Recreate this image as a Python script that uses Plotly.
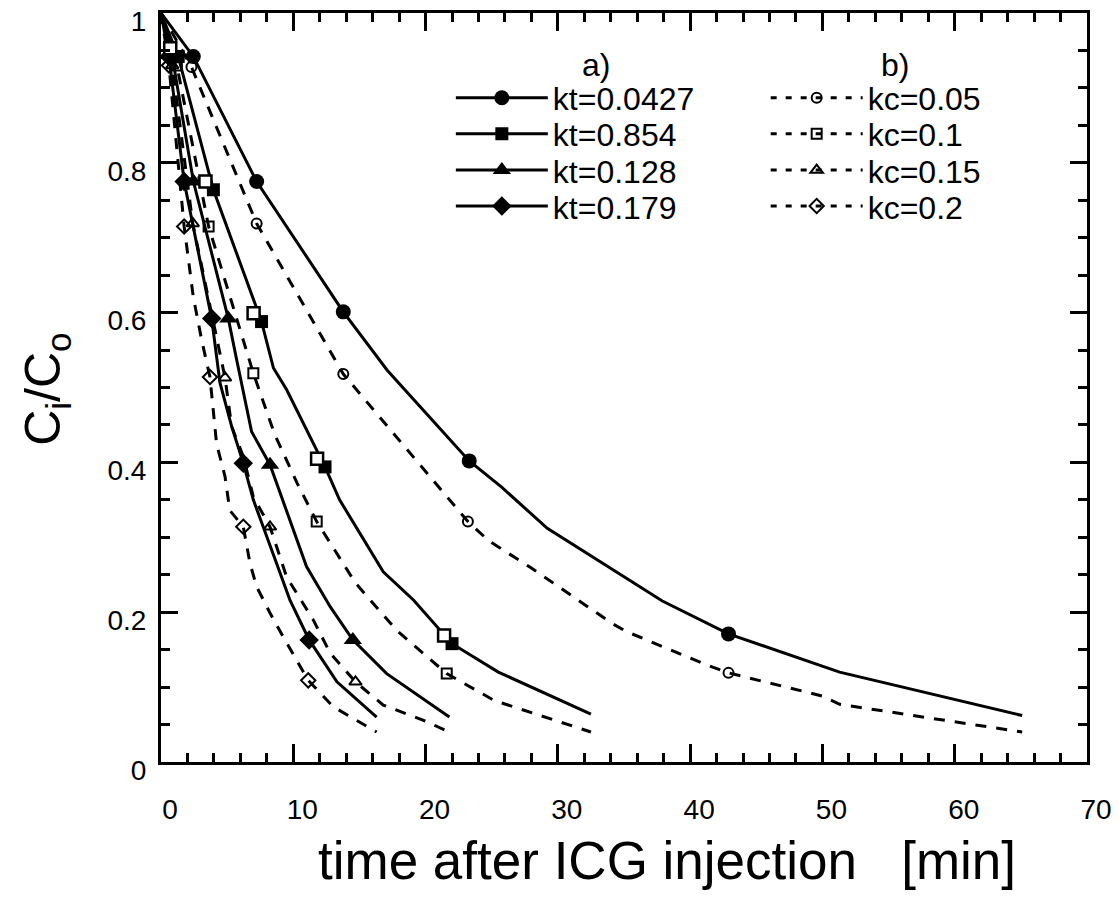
import plotly.graph_objects as go

# ---------------- data ----------------
# solid curves (kt) : polyline vertices
kt1_t = [0, 2.44, 7.23, 13.78, 17.1, 23.3, 25.75, 29.2, 32.7, 37.9, 42.9, 51.3, 65.1]
kt1_v = [1.0, 0.942, 0.775, 0.601, 0.523, 0.402, 0.367, 0.312, 0.273, 0.215, 0.171, 0.120, 0.062]
kt1_mt = [2.44, 7.23, 13.78, 23.3, 42.9]
kt1_mv = [0.942, 0.775, 0.601, 0.402, 0.171]

kt2_t = [0, 1.3, 3.96, 7.6, 8.5, 9.5, 12.4, 13.5, 16.8, 19.1, 22.0, 25.5, 32.5]
kt2_v = [1.0, 0.942, 0.764, 0.588, 0.526, 0.497, 0.394, 0.350, 0.254, 0.216, 0.158, 0.120, 0.064]
kt2_mt = [1.3, 3.96, 7.6, 12.4, 22.0]
kt2_mv = [0.942, 0.764, 0.588, 0.394, 0.158]

kt3_t = [0, 0.85, 2.45, 5.09, 5.72, 6.85, 8.24, 9.2, 11.0, 12.8, 14.5, 17.06, 21.8]
kt3_v = [1.0, 0.942, 0.775, 0.592, 0.537, 0.441, 0.397, 0.350, 0.261, 0.207, 0.163, 0.118, 0.060]
kt3_mt = [0.85, 2.45, 5.09, 8.24, 14.5]
kt3_mv = [0.942, 0.775, 0.592, 0.397, 0.163]

kt4_t = [0, 0.6, 1.75, 3.83, 4.46, 5.34, 6.22, 6.98, 8.74, 9.75, 11.2, 13.3, 16.3]
kt4_v = [1.0, 0.942, 0.775, 0.592, 0.506, 0.448, 0.399, 0.350, 0.265, 0.216, 0.163, 0.107, 0.060]
kt4_mt = [0.6, 1.75, 3.83, 6.22, 11.2]
kt4_mv = [0.942, 0.775, 0.592, 0.399, 0.163]

# dashed curves (kc)
kc1_t = [0, 2.3, 7.23, 13.78, 23.2, 24.8, 28.0, 30.9, 34.1, 35.2, 41.2, 42.9, 50.0, 51.3, 65.1]
kc1_v = [1.0, 0.928, 0.719, 0.518, 0.321, 0.295, 0.259, 0.224, 0.185, 0.174, 0.130, 0.119, 0.088, 0.077, 0.040]
kc1_mt = [2.3, 7.23, 13.78, 23.2, 42.9]
kc1_mv = [0.928, 0.719, 0.518, 0.321, 0.119]

kc2_t = [0, 1.2, 3.6, 6.98, 8.6, 10.3, 11.77, 14.7, 17.8, 21.6, 25.2, 32.5]
kc2_v = [1.0, 0.93, 0.715, 0.519, 0.437, 0.372, 0.321, 0.239, 0.176, 0.118, 0.082, 0.040]
kc2_mt = [1.2, 3.6, 6.98, 11.77, 21.6]
kc2_mv = [0.93, 0.715, 0.519, 0.321, 0.118]

kc3_t = [0, 0.85, 2.4, 4.84, 5.34, 6.22, 6.98, 8.24, 9.5, 11.5, 12.8, 14.7, 16.8, 19.8, 21.8]
kc3_v = [1.0, 0.93, 0.719, 0.513, 0.448, 0.408, 0.354, 0.314, 0.247, 0.190, 0.145, 0.107, 0.076, 0.056, 0.040]
kc3_mt = [0.85, 2.4, 4.84, 8.24, 14.7]
kc3_mv = [0.93, 0.719, 0.513, 0.314, 0.107]

kc4_t = [0, 0.6, 1.75, 2.44, 3.08, 3.7, 4.2, 4.84, 5.2, 6.22, 6.73, 7.23, 8.24, 9.24, 11.13, 13.0, 16.3]
kc4_v = [1.0, 0.93, 0.715, 0.621, 0.563, 0.514, 0.425, 0.381, 0.336, 0.314, 0.265, 0.234, 0.199, 0.167, 0.109, 0.074, 0.040]
kc4_mt = [0.6, 1.75, 3.7, 6.22, 11.13]
kc4_mv = [0.93, 0.715, 0.514, 0.314, 0.109]

kt_names = ["kt=0.0427", "kt=0.854", "kt=0.128", "kt=0.179"]
kc_names = ["kc=0.05", "kc=0.1", "kc=0.15", "kc=0.2"]

x_ticks = [0, 10, 20, 30, 40, 50, 60, 70]
y_ticks = [0, 0.2, 0.4, 0.6, 0.8, 1]

# ---------------- styling ----------------
BLACK = "black"
FONT = "Liberation Sans, Arial, Helvetica, sans-serif"
DASH = "11px,10px"
LW = 3
LEG_FONT = 32

kt_series = [
    (kt1_t, kt1_v, kt1_mt, kt1_mv, "circle", 15),
    (kt2_t, kt2_v, kt2_mt, kt2_mv, "square", 13),
    (kt3_t, kt3_v, kt3_mt, kt3_mv, "triangle-up", 16),
    (kt4_t, kt4_v, kt4_mt, kt4_mv, "diamond", 15),
]
kc_series = [
    (kc1_t, kc1_v, kc1_mt, kc1_mv, "circle-open", 10),
    (kc2_t, kc2_v, kc2_mt, kc2_mv, "square-open", 10),
    (kc3_t, kc3_v, kc3_mt, kc3_mv, "triangle-up-open", 11),
    (kc4_t, kc4_v, kc4_mt, kc4_mv, "diamond-open", 11),
]

fig = go.Figure()

for (t, v, mt, mv, sym, sz) in kt_series:
    fig.add_trace(go.Scatter(x=t, y=v, mode="lines", showlegend=False, hoverinfo="skip",
                             line=dict(color=BLACK, width=LW)))
    fig.add_trace(go.Scatter(x=mt, y=mv, mode="markers", showlegend=False,
                             marker=dict(symbol=sym, size=sz, color=BLACK)))

for (t, v, mt, mv, sym, sz) in kc_series:
    fig.add_trace(go.Scatter(x=t, y=v, mode="lines", showlegend=False, hoverinfo="skip",
                             line=dict(color=BLACK, width=LW, dash=DASH)))
    fig.add_trace(go.Scatter(x=mt, y=mv, mode="markers", showlegend=False,
                             marker=dict(symbol=sym, size=sz, color=BLACK,
                                         line=dict(color=BLACK, width=2))))

# open companion squares of the kt=0.854 markers (drawn on a slightly shifted overlay axis)
fig.add_trace(go.Scatter(x=kt2_mt, y=kt2_mv, mode="markers", showlegend=False,
                         xaxis="x2", yaxis="y2",
                         marker=dict(symbol="square", size=12, color="white",
                                     line=dict(color=BLACK, width=2.5))))

# legend entries: one single-item legend per row so rows can be spaced like the original
row_y = [0.8865, 0.8385, 0.790, 0.742]
legend_layout = {}
k = 1
for col, (names, series, dash, lx) in enumerate([
        (kt_names, kt_series, None, 0.313),
        (kc_names, kc_series, "6px,9px", 0.653)]):
    for i, (name, (t, v, mt, mv, sym, sz)) in enumerate(zip(names, series)):
        lname = "legend" if k == 1 else f"legend{k}"
        mk = dict(symbol=sym, size=sz, color=BLACK)
        if dash:
            mk["line"] = dict(color=BLACK, width=2)
        fig.add_trace(go.Scatter(x=[None], y=[None], mode="lines+markers", name=name, legend=lname,
                                 line=dict(color=BLACK, width=LW, dash=dash), marker=mk))
        legend_layout[lname] = dict(x=lx, y=row_y[i], xanchor="left", yanchor="middle",
                                    itemwidth=92, bgcolor="rgba(0,0,0,0)", borderwidth=0,
                                    font=dict(family=FONT, size=LEG_FONT, color=BLACK))
        k += 1

axis_common = dict(showline=True, linewidth=3, linecolor=BLACK, mirror="allticks",
                   ticks="inside", tickcolor=BLACK, tickwidth=2.5, showgrid=False,
                   zeroline=False, ticklabeloverflow="allow", automargin=False,
                   tickfont=dict(family=FONT, size=28, color=BLACK))

fig.update_layout(
    width=1119, height=914,
    margin=dict(l=161, r=32, t=13, b=152, autoexpand=False),
    paper_bgcolor="white", plot_bgcolor="white",
    font=dict(family=FONT, color=BLACK),
    xaxis=dict(range=[0, 70], tickvals=x_ticks, ticklen=18,
               minor=dict(dtick=2, ticklen=9, tickwidth=2.5, ticks="inside", tickcolor=BLACK, showgrid=False),
               ticklabelstandoff=20, ticklabelshift=9, **axis_common),
    yaxis=dict(range=[0, 1], tickvals=y_ticks, ticklen=17,
               minor=dict(dtick=0.05, ticklen=9, tickwidth=2.5, ticks="inside", tickcolor=BLACK, showgrid=False),
               ticklabelstandoff=6, ticklabelshift=8, **axis_common),
    xaxis2=dict(overlaying="x", range=[0.6, 70.6], visible=False),
    yaxis2=dict(overlaying="y", range=[-0.011, 0.989], visible=False),
    annotations=[
        dict(text="a)", xref="paper", yref="paper", x=0.470, y=0.930,
             xanchor="center", yanchor="middle", showarrow=False,
             font=dict(family=FONT, size=LEG_FONT, color=BLACK)),
        dict(text="b)", xref="paper", yref="paper", x=0.793, y=0.930,
             xanchor="center", yanchor="middle", showarrow=False,
             font=dict(family=FONT, size=LEG_FONT, color=BLACK)),
        dict(text="time after ICG injection\u00a0\u00a0\u00a0[min]", xref="paper", yref="paper",
             x=0.546, y=-0.131, xanchor="center", yanchor="middle", showarrow=False,
             font=dict(family=FONT, size=53, color=BLACK)),
        dict(text="C<sub>i</sub>/C<sub>o</sub>", xref="paper", yref="paper",
             x=-0.123, y=0.497, xanchor="center", yanchor="middle", showarrow=False, textangle=-90,
             font=dict(family=FONT, size=50, color=BLACK)),
    ],
)
fig.update_layout(**legend_layout)

fig.write_html("out.html")
